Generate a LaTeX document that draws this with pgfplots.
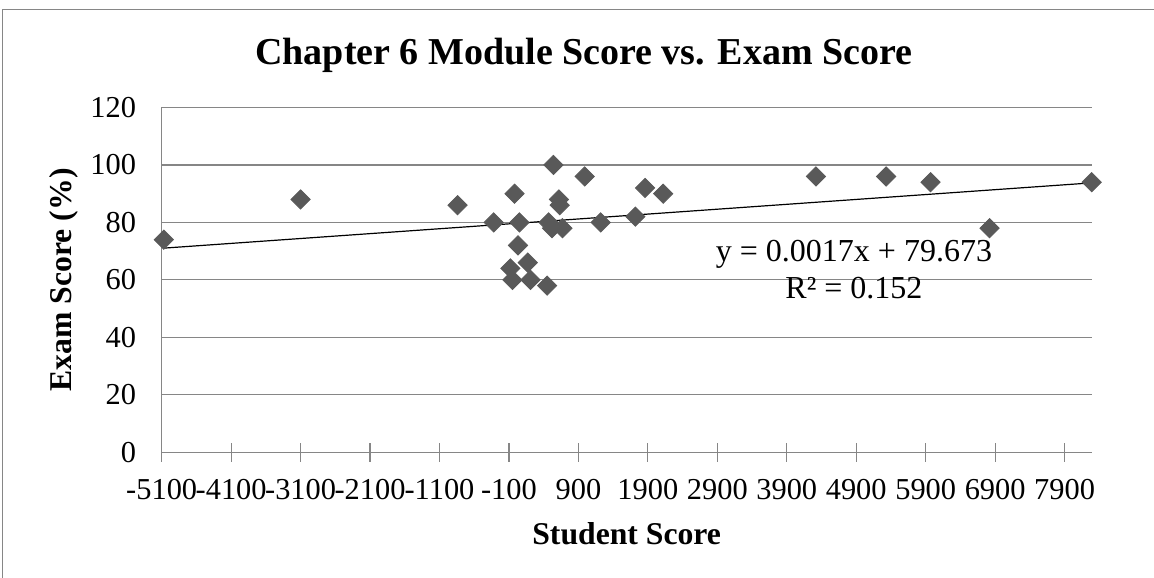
\documentclass[border=0pt]{standalone}
\usepackage{fontspec}
\setmainfont{Liberation Serif}
\usepackage{pgfplots}
\pgfplotsset{compat=1.18}
\usetikzlibrary{calc}
\definecolor{gridgray}{RGB}{134,134,134}
\definecolor{markgray}{RGB}{89,89,89}

\begin{document}
\begin{tikzpicture}
\begin{axis}[
    width=465pt, height=172.4pt, scale only axis,
    xmin=-5100, xmax=8290, ymin=0, ymax=120,
    axis lines*=left,
    axis line style={gridgray, line width=0.6pt},
    clip=false,
    xtick={-5100,-4100,-3100,-2100,-1100,-100,900,1900,2900,3900,4900,5900,6900,7900},
    xticklabels={-5100,-4100,-3100,-2100,-1100,-100,900,1900,2900,3900,4900,5900,6900,7900},
    ytick={0,20,40,60,80,100,120},
    yticklabels={0,20,40,60,80,100,120},
    tick align=center,
    major tick length=9.5pt,
    xtick style={gridgray, line width=0.6pt},
    ytick style={draw=none},
    ymajorgrids,
    major grid style={gridgray, line width=0.6pt},
    ticklabel style={font=\fontsize{15.2}{18}\selectfont, inner sep=0pt},
    xticklabel style={anchor=base, yshift=-18.85pt},
    yticklabel style={anchor=east},
    yticklabel shift=7.9pt,
    title={Chapter 6 Module Score vs. Exam Score},
    title style={font=\fontsize{19}{23}\selectfont\bfseries, at={(rel axis cs:0.454,1)}, anchor=base, yshift=15.25pt, inner sep=0pt},
    xlabel={Student Score},
    xlabel style={font=\fontsize{15.85}{19}\selectfont\bfseries, at={(rel axis cs:0.5,0)}, anchor=base, yshift=-46.35pt, inner sep=0pt},
    ylabel={Exam Score (\%)},
    ylabel style={font=\fontsize{15.85}{19}\selectfont\bfseries, at={(rel axis cs:-0.0975,0.5)}, anchor=base, inner sep=0pt},
]
\addplot[only marks, mark=square*, mark size=3.4pt, color=markgray, mark options={rotate=45, draw=markgray, fill=markgray}] coordinates {
    (-5070,74) (-3100,88) (-840,86) (-320,80) (-20,90) (50,80) (30,72)
    (-80,64) (-50,60) (170,66) (210,60) (450,58) (470,80) (520,78)
    (540,100) (620,88) (630,86) (670,78) (990,96) (1220,80) (1720,82)
    (1860,92) (2120,90) (4320,96) (5330,96) (5970,94) (6820,78) (8290,94)
};
\addplot[black, line width=0.6pt, no marks] coordinates {
    (-5070,71.054) (8290,93.766)
};
\node[font=\fontsize{16}{19}\selectfont, anchor=base, inner sep=0pt] at (rel axis cs:0.7444,0.5528) {y = 0.0017x + 79.673};
\node[font=\fontsize{16}{19}\selectfont, anchor=base, inner sep=0pt] at (rel axis cs:0.7444,0.4466) {R² = 0.152};
\coordinate (SW) at (rel axis cs:0,0);
\coordinate (NW) at (rel axis cs:0,1);
\coordinate (NE) at (rel axis cs:1,1);
\end{axis}
\draw[gridgray, line width=0.6pt] ($(SW)+(-79.6pt,-70pt)$) -- ($(NW)+(-79.6pt,49.1pt)$) -- ($(NE)+(40pt,49.1pt)$);
\pgfresetboundingbox
\path ($(SW)+(-80.85pt,-62.85pt)$) rectangle ($(NE)+(31.15pt,53.75pt)$);
\end{tikzpicture}
\end{document}
